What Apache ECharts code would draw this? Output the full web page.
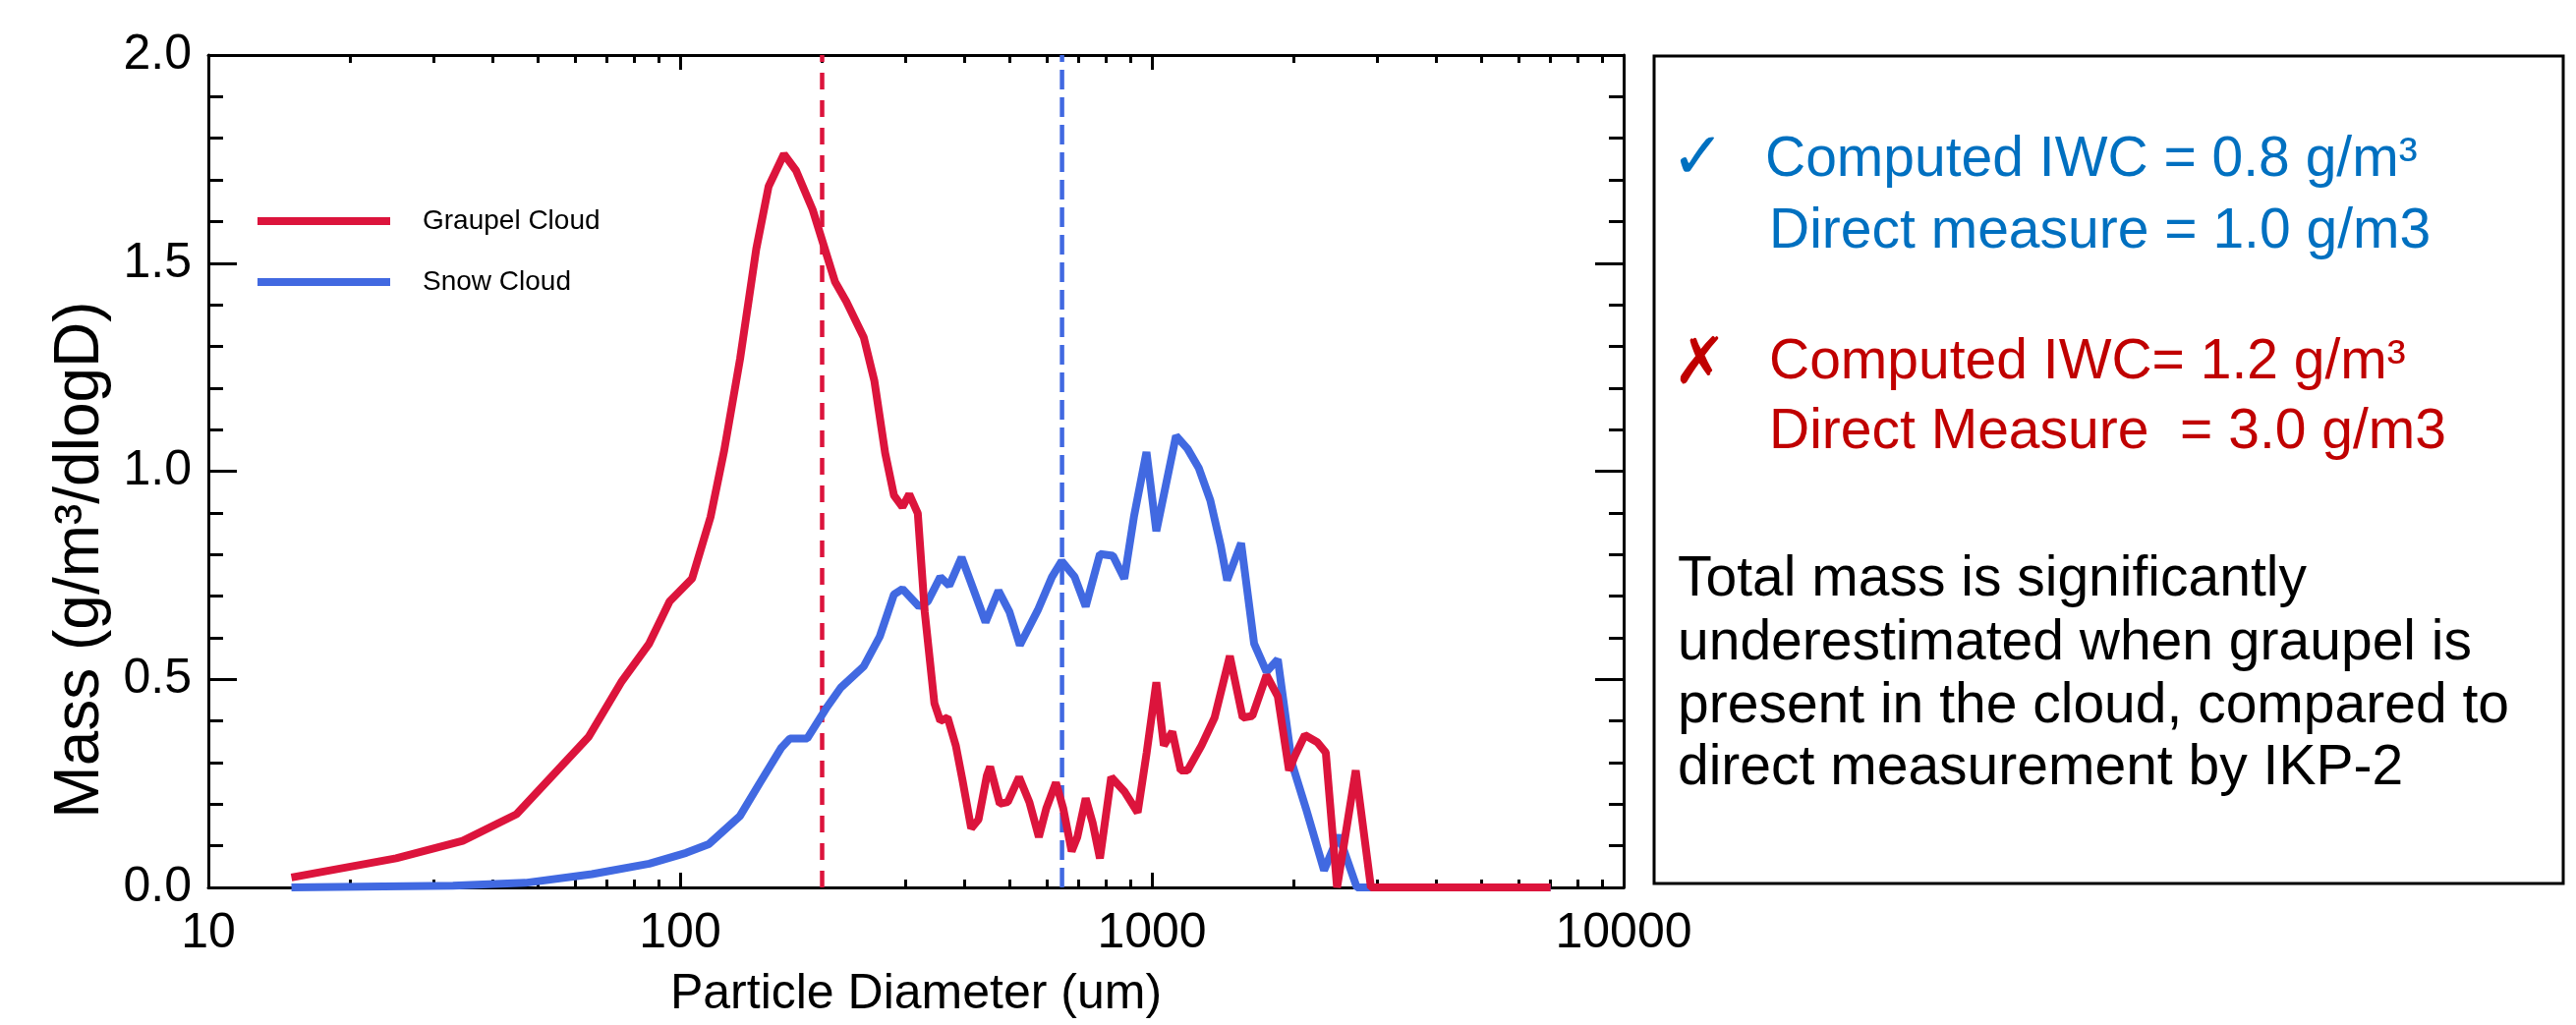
<!DOCTYPE html>
<html>
<head>
<meta charset="utf-8">
<title>Graupel vs Snow mass distribution</title>
<script src="https://cdn.jsdelivr.net/npm/echarts@6/dist/echarts.min.js"></script>
<style>
  html, body { margin: 0; padding: 0; background: #fff; }
  #chart { width: 2621px; height: 1043px; }
</style>
</head>
<body>
<div id="chart"></div>
<script>
  // particle diameter (um) and mass (g/m3/dlogD)
  var graupelDiam = [15, 25, 34.6, 45, 64, 75, 86, 95, 106, 116, 124, 134, 145, 154, 166, 176, 191, 213, 225, 245,
    258, 272, 284, 296, 306, 319, 330, 346, 356, 369, 384, 397, 414, 429, 447, 454, 476, 495, 523, 550,
    576, 597, 626, 649, 676, 695, 724, 749, 776, 820, 874, 933, 975, 1022, 1060, 1105, 1151, 1190, 1274, 1358,
    1463, 1558, 1633, 1750, 1849, 1953, 2008, 2110, 2242, 2337, 2469, 2705, 2913, 3500, 4500, 5600, 7000];
  var graupelMass = [0.024, 0.07, 0.112, 0.176, 0.362, 0.493, 0.586, 0.687, 0.742, 0.89, 1.05, 1.27, 1.534, 1.684, 1.762, 1.723, 1.628, 1.455, 1.408, 1.322,
    1.218, 1.044, 0.942, 0.914, 0.945, 0.899, 0.662, 0.442, 0.40, 0.408, 0.341, 0.256, 0.142, 0.163, 0.269, 0.29, 0.201, 0.205, 0.265, 0.205,
    0.121, 0.189, 0.252, 0.189, 0.087, 0.121, 0.214, 0.155, 0.07, 0.265, 0.231, 0.18, 0.324, 0.493, 0.341, 0.374, 0.281, 0.281, 0.341, 0.408,
    0.556, 0.408, 0.412, 0.51, 0.459, 0.281, 0.315, 0.366, 0.349, 0.324, 0.0, 0.281, 0, 0, 0, 0, 0];

  var snowDiam = [15, 33, 47, 65, 86, 103, 115, 134, 147, 164, 171, 186, 205, 219, 245, 265, 284, 296, 321, 335,
    356, 372, 395, 417, 444, 473, 499, 525, 573, 614, 644, 686, 724, 776, 827, 874, 916, 974, 1022, 1125,
    1190, 1258, 1330, 1400, 1444, 1546, 1647, 1750, 1849, 1981, 2122, 2317, 2489, 2719, 7000];
  var snowMass = [0, 0.004, 0.011, 0.032, 0.057, 0.083, 0.104, 0.172, 0.248, 0.336, 0.358, 0.358, 0.434, 0.48, 0.531, 0.603, 0.704, 0.717, 0.675, 0.687,
    0.746, 0.725, 0.793, 0.721, 0.637, 0.713, 0.662, 0.582, 0.666, 0.746, 0.784, 0.746, 0.675, 0.801, 0.797, 0.742, 0.89, 1.046, 0.856, 1.085,
    1.054, 1.007, 0.93, 0.82, 0.738, 0.827, 0.586, 0.518, 0.548, 0.298, 0.189, 0.041, 0.125, 0, 0];

  // dashed reference diameters (um)
  var graupelCut = 200;
  var snowCut = 645;

  var xTicks = [10, 100, 1000, 10000];
  var xMinorTicks = [20, 30, 40, 50, 60, 70, 80, 90, 200, 300, 400, 500, 600, 700, 800, 900,
    2000, 3000, 4000, 5000, 6000, 7000, 8000, 9000];

  var FONT = '"Liberation Sans", Arial, Helvetica, sans-serif';
  var RED = '#DC143C';
  var BLUE = '#4169E1';

  function zip(xs, ys) {
    return xs.map(function (x, i) { return [x, ys[i]]; });
  }

  var blackLine = {color: '#000', width: 3};

  function xAxisDef(pos, values, len, main) {
    return {
      type: 'log', logBase: 10, min: 10, max: 10000, position: pos,
      axisLine: {show: main, onZero: false, lineStyle: blackLine},
      axisTick: {show: true, inside: true, length: len, customValues: values, lineStyle: blackLine},
      axisLabel: {show: false},
      splitLine: {show: false}
    };
  }

  function yAxisDef(pos) {
    return {
      type: 'value', min: 0, max: 2, interval: 0.5, position: pos,
      axisLine: {show: true, onZero: false, lineStyle: blackLine},
      axisTick: {show: true, inside: true, length: 29, lineStyle: blackLine},
      minorTick: {show: true, splitNumber: 5, length: 15, lineStyle: blackLine},
      axisLabel: {show: false},
      splitLine: {show: false},
      minorSplitLine: {show: false}
    };
  }

  var xBottom = xAxisDef('bottom', xTicks, 15, true);
  xBottom.axisLabel = {
    show: true, customValues: xTicks, margin: 22,
    formatter: function (v) { return String(v); },
    fontSize: 50, color: '#000', fontFamily: FONT
  };
  xBottom.name = 'Particle Diameter (um)';
  xBottom.nameLocation = 'middle';
  xBottom.nameGap = 84;
  xBottom.nameTextStyle = {fontSize: 50, color: '#000', fontFamily: FONT};

  var yLeft = yAxisDef('left');
  yLeft.axisLabel = {
    show: true, margin: 17,
    formatter: function (v) { return v.toFixed(1); },
    fontSize: 50, color: '#000', fontFamily: FONT
  };
  yLeft.name = 'Mass (g/m³/dlogD)';
  yLeft.nameLocation = 'middle';
  yLeft.nameGap = 92;
  // right padding pushes the rotated title a little below the axis centre
  yLeft.nameTextStyle = {fontSize: 64, color: '#000', fontFamily: FONT, padding: [0, 180, 0, 0]};

  var boxText = [
    {x: 1700, y: 163, text: '✓', color: '#0070C0', size: 66},
    {x: 1796, y: 163, text: 'Computed IWC = 0.8 g/m³', color: '#0070C0'},
    {x: 1800, y: 236, text: 'Direct measure = 1.0 g/m3', color: '#0070C0'},
    {x: 1702, y: 372, text: '✗', color: '#C00000', size: 66},
    {x: 1800, y: 369, text: 'Computed IWC= 1.2 g/m³', color: '#C00000'},
    {x: 1800, y: 440, text: 'Direct Measure  = 3.0 g/m3', color: '#C00000'},
    {x: 1707, y: 590, text: 'Total mass is significantly', color: '#000'},
    {x: 1707, y: 655, text: 'underestimated when graupel is', color: '#000'},
    {x: 1707, y: 719, text: 'present in the cloud, compared to', color: '#000'},
    {x: 1707, y: 782, text: 'direct measurement by IKP-2', color: '#000'}
  ];

  var graphics = [{
    type: 'rect',
    shape: {x: 1683, y: 57, width: 925, height: 842},
    style: {fill: 'none', stroke: '#000', lineWidth: 3}
  }];
  boxText.forEach(function (t) {
    graphics.push({
      type: 'text', x: t.x, y: t.y,
      style: {text: t.text, fill: t.color, font: (t.size || 57) + 'px ' + FONT, textAlign: 'left', textVerticalAlign: 'middle'}
    });
  });

  var option = {
    animation: false,
    backgroundColor: '#fff',
    grid: {left: 212, right: 969, top: 56, bottom: 140, containLabel: false},
    legend: {
      data: ['Graupel Cloud', 'Snow Cloud'],
      orient: 'vertical', left: 257, top: 206,
      itemWidth: 135, itemHeight: 8, itemGap: 34, icon: 'rect',
      selectedMode: false,
      textStyle: {fontSize: 28, color: '#000', fontFamily: FONT, padding: [0, 0, 0, 28]}
    },
    xAxis: [
      xBottom,
      xAxisDef('bottom', xMinorTicks, 8, false),
      xAxisDef('top', xTicks, 15, true),
      xAxisDef('top', xMinorTicks, 8, false)
    ],
    yAxis: [yLeft, yAxisDef('right')],
    series: [{
      name: 'graupel cut', type: 'line', z: 1, silent: true, symbol: 'none',
      data: [[graupelCut, 0], [graupelCut, 2]],
      lineStyle: {color: RED, width: 4.5, type: [17, 11]}
    }, {
      name: 'snow cut', type: 'line', z: 1, silent: true, symbol: 'none',
      data: [[snowCut, 0], [snowCut, 2]],
      lineStyle: {color: BLUE, width: 4.5, type: [20, 8]}
    }, {
      name: 'Snow Cloud', type: 'line', z: 3, symbol: 'none', color: BLUE,
      data: zip(snowDiam, snowMass),
      lineStyle: {color: BLUE, width: 8}
    }, {
      name: 'Graupel Cloud', type: 'line', z: 4, symbol: 'none', color: RED,
      data: zip(graupelDiam, graupelMass),
      lineStyle: {color: RED, width: 8}
    }],
    graphic: graphics
  };

  var chart = echarts.init(document.getElementById('chart'));
  chart.setOption(option);
</script>
</body>
</html>
